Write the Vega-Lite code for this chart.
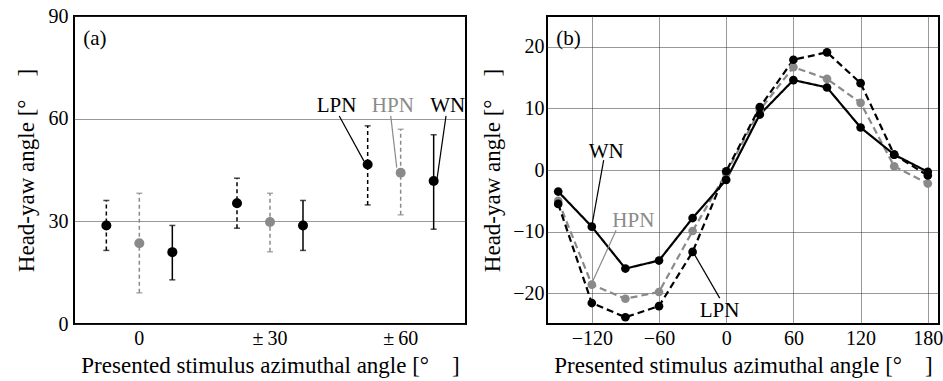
{
  "$schema": "https://vega.github.io/schema/vega-lite/v6.json",
  "padding": {"left": 14, "top": 5, "right": 0, "bottom": 0},
  "spacing": 81,
  "bounds": "flush",
  "resolve": {"scale": {"color": "independent", "strokeDash": "independent"}},
  "datasets": {
    "a": [
      {"angle": "0", "noise": "LPN", "mean": 28.8, "lo": 21.5, "hi": 36.1},
      {"angle": "0", "noise": "HPN", "mean": 23.6, "lo": 9.1, "hi": 38.2},
      {"angle": "0", "noise": "WN", "mean": 21.0, "lo": 12.9, "hi": 28.8},
      {"angle": "±\u200930", "noise": "LPN", "mean": 35.3, "lo": 28.0, "hi": 42.6},
      {"angle": "±\u200930", "noise": "HPN", "mean": 29.8, "lo": 21.1, "hi": 38.2},
      {"angle": "±\u200930", "noise": "WN", "mean": 28.8, "lo": 21.5, "hi": 36.1},
      {"angle": "±\u200960", "noise": "LPN", "mean": 46.6, "lo": 34.8, "hi": 57.9},
      {"angle": "±\u200960", "noise": "HPN", "mean": 44.2, "lo": 31.9, "hi": 56.9},
      {"angle": "±\u200960", "noise": "WN", "mean": 41.8, "lo": 27.7, "hi": 55.3}
    ],
    "a_notes": [
      {"label": "LPN", "noise": "LPN", "x": 1.51, "y": 61.9},
      {"label": "HPN", "noise": "HPN", "x": 1.94, "y": 61.9},
      {"label": "WN", "noise": "WN", "x": 2.36, "y": 61.9}
    ],
    "a_lines": [
      {"noise": "LPN", "x": 1.53, "y": 60.8, "x2": 1.719, "y2": 47.6},
      {"noise": "HPN", "x": 1.924, "y": 60.8, "x2": 1.97, "y2": 45.7},
      {"noise": "WN", "x": 2.347, "y": 60.8, "x2": 2.276, "y2": 41.8}
    ],
    "b": [
      {"angle": -150, "noise": "HPN", "yaw": -5.0},
      {"angle": -120, "noise": "HPN", "yaw": -18.6},
      {"angle": -90, "noise": "HPN", "yaw": -20.9},
      {"angle": -60, "noise": "HPN", "yaw": -19.8},
      {"angle": -30, "noise": "HPN", "yaw": -9.9},
      {"angle": 0, "noise": "HPN", "yaw": -0.5},
      {"angle": 30, "noise": "HPN", "yaw": 9.7},
      {"angle": 60, "noise": "HPN", "yaw": 16.7},
      {"angle": 90, "noise": "HPN", "yaw": 14.8},
      {"angle": 120, "noise": "HPN", "yaw": 10.9},
      {"angle": 150, "noise": "HPN", "yaw": 0.6},
      {"angle": 180, "noise": "HPN", "yaw": -2.2},
      {"angle": -150, "noise": "LPN", "yaw": -5.5},
      {"angle": -120, "noise": "LPN", "yaw": -21.6},
      {"angle": -90, "noise": "LPN", "yaw": -23.9},
      {"angle": -60, "noise": "LPN", "yaw": -22.1},
      {"angle": -30, "noise": "LPN", "yaw": -13.3},
      {"angle": 0, "noise": "LPN", "yaw": -0.2},
      {"angle": 30, "noise": "LPN", "yaw": 10.2},
      {"angle": 60, "noise": "LPN", "yaw": 17.9},
      {"angle": 90, "noise": "LPN", "yaw": 19.1},
      {"angle": 120, "noise": "LPN", "yaw": 14.1},
      {"angle": 150, "noise": "LPN", "yaw": 2.5},
      {"angle": 180, "noise": "LPN", "yaw": -0.9},
      {"angle": -150, "noise": "WN", "yaw": -3.5},
      {"angle": -120, "noise": "WN", "yaw": -9.2},
      {"angle": -90, "noise": "WN", "yaw": -16.0},
      {"angle": -60, "noise": "WN", "yaw": -14.7},
      {"angle": -30, "noise": "WN", "yaw": -7.8},
      {"angle": 0, "noise": "WN", "yaw": -1.6},
      {"angle": 30, "noise": "WN", "yaw": 9.0},
      {"angle": 60, "noise": "WN", "yaw": 14.6},
      {"angle": 90, "noise": "WN", "yaw": 13.4},
      {"angle": 120, "noise": "WN", "yaw": 6.9},
      {"angle": 150, "noise": "WN", "yaw": 2.5},
      {"angle": 180, "noise": "WN", "yaw": -0.3}
    ],
    "b_notes": [
      {"label": "WN", "noise": "WN", "x": -107.2, "y": 1.9},
      {"label": "HPN", "noise": "HPN", "x": -82.9, "y": -9.2},
      {"label": "LPN", "noise": "LPN", "x": -6.0, "y": -23.8}
    ],
    "b_lines": [
      {"noise": "WN", "x": -109.4, "y": 1.6, "x2": -119.8, "y2": -8.9},
      {"noise": "HPN", "x": -98.3, "y": -9.8, "x2": -119.8, "y2": -18.3},
      {"noise": "LPN", "x": -5.8, "y": -20.8, "x2": -29.0, "y2": -13.5}
    ]
  },
  "hconcat": [
    {
      "width": 392,
      "height": 308,
      "resolve": {"scale": {"x": "independent"}},
      "layer": [
        {
          "data": {"name": "a"},
          "encoding": {
            "x": {
              "field": "angle", "type": "nominal",
              "scale": {"domain": ["0", "±\u200930", "±\u200960"], "paddingInner": 0, "paddingOuter": 0},
              "axis": {"title": "Presented stimulus azimuthal angle [°\u2003]", "labelAngle": 0, "grid": false, "ticks": false, "domain": false, "labelPadding": 4, "titlePadding": 6}
            },
            "xOffset": {"field": "noise", "type": "nominal", "scale": {"domain": ["LPN", "HPN", "WN"], "paddingInner": 0, "paddingOuter": 0.48}},
            "color": {"field": "noise", "type": "nominal", "scale": {"domain": ["LPN", "HPN", "WN"], "range": ["black", "#8a8a8a", "black"]}, "legend": null}
          },
          "layer": [
            {
              "mark": {"type": "rule", "strokeWidth": 1.5},
              "encoding": {
                "y": {"field": "lo", "type": "quantitative", "scale": {"domain": [0, 90]}, "title": "Head-yaw angle [°\u2003]",
                  "axis": {"values": [0, 30, 60, 90], "grid": true, "ticks": false, "domain": false, "labelPadding": 6, "titlePadding": 10}},
                "y2": {"field": "hi"},
                "strokeDash": {"field": "noise", "type": "nominal", "scale": {"domain": ["LPN", "HPN", "WN"], "range": [[4, 3], [4, 3], [1, 0]]}, "legend": null}
              }
            },
            {
              "mark": {"type": "tick", "size": 6, "thickness": 1.5},
              "encoding": {"y": {"field": "hi", "type": "quantitative", "title": "Head-yaw angle [°\u2003]"}}
            },
            {
              "mark": {"type": "tick", "size": 6, "thickness": 1.5},
              "encoding": {"y": {"field": "lo", "type": "quantitative", "title": "Head-yaw angle [°\u2003]"}}
            },
            {
              "mark": {"type": "point", "filled": true, "size": 100, "opacity": 1},
              "encoding": {"y": {"field": "mean", "type": "quantitative", "title": "Head-yaw angle [°\u2003]"}}
            }
          ]
        },
        {
          "encoding": {
            "x": {"field": "x", "type": "quantitative", "scale": {"domain": [-0.5, 2.5], "nice": false, "zero": false}, "axis": null}
          },
          "layer": [
            {
              "data": {"name": "a_lines"},
              "mark": {"type": "rule", "strokeWidth": 1.2},
              "encoding": {
                "y": {"field": "y", "type": "quantitative", "title": "Head-yaw angle [°\u2003]"},
                "x2": {"field": "x2"},
                "y2": {"field": "y2"},
                "color": {"field": "noise", "type": "nominal", "legend": null}
              }
            },
            {
              "data": {"name": "a_notes"},
              "mark": {"type": "text", "fontSize": 21, "align": "center", "baseline": "alphabetic"},
              "encoding": {
                "y": {"field": "y", "type": "quantitative", "title": "Head-yaw angle [°\u2003]"},
                "text": {"field": "label"},
                "color": {"field": "noise", "type": "nominal", "legend": null}
              }
            },
            {
              "data": {"values": [{"label": "(a)", "x": -0.43, "y": 81.5}]},
              "mark": {"type": "text", "fontSize": 21, "align": "left", "baseline": "alphabetic", "color": "black"},
              "encoding": {
                "y": {"field": "y", "type": "quantitative", "title": "Head-yaw angle [°\u2003]"},
                "text": {"field": "label"}
              }
            }
          ]
        }
      ]
    },
    {
      "width": 392,
      "height": 308,
      "layer": [
        {
          "data": {"name": "b"},
          "encoding": {
            "x": {"field": "angle", "type": "quantitative", "scale": {"domain": [-160, 190], "nice": false, "zero": false},
              "axis": {"title": "Presented stimulus azimuthal angle [°\u2003]", "values": [-120, -60, 0, 60, 120, 180], "grid": true, "ticks": false, "domain": false, "labelPadding": 4, "titlePadding": 6}},
            "y": {"field": "yaw", "type": "quantitative", "scale": {"domain": [-25, 25], "nice": false}, "title": "Head-yaw angle [°\u2003]",
              "axis": {"values": [-20, -10, 0, 10, 20], "grid": true, "ticks": false, "domain": false, "labelPadding": 3, "titlePadding": 8}},
            "color": {"field": "noise", "type": "nominal", "scale": {"domain": ["HPN", "LPN", "WN"], "range": ["#8a8a8a", "black", "black"]}, "legend": null}
          },
          "layer": [
            {
              "mark": {"type": "line", "strokeWidth": 2.2},
              "encoding": {
                "strokeDash": {"field": "noise", "type": "nominal", "scale": {"domain": ["HPN", "LPN", "WN"], "range": [[7, 4], [7, 4], [1, 0]]}, "legend": null}
              }
            },
            {
              "mark": {"type": "point", "filled": true, "size": 75, "opacity": 1}
            }
          ]
        },
        {
          "data": {"name": "b_lines"},
          "mark": {"type": "rule", "strokeWidth": 1.2},
          "encoding": {
            "x": {"field": "x", "type": "quantitative"},
            "y": {"field": "y", "type": "quantitative"},
            "x2": {"field": "x2"},
            "y2": {"field": "y2"},
            "color": {"field": "noise", "type": "nominal", "legend": null}
          }
        },
        {
          "data": {"name": "b_notes"},
          "mark": {"type": "text", "fontSize": 21, "align": "center", "baseline": "alphabetic"},
          "encoding": {
            "x": {"field": "x", "type": "quantitative"},
            "y": {"field": "y", "type": "quantitative"},
            "text": {"field": "label"},
            "color": {"field": "noise", "type": "nominal", "legend": null}
          }
        },
        {
          "data": {"values": [{"label": "(b)", "x": -151.7, "y": 20.3}]},
          "mark": {"type": "text", "fontSize": 21, "align": "left", "baseline": "alphabetic", "color": "black"},
          "encoding": {
            "x": {"field": "x", "type": "quantitative"},
            "y": {"field": "y", "type": "quantitative"},
            "text": {"field": "label"}
          }
        }
      ]
    }
  ],
  "config": {
    "font": "Liberation Serif, Times New Roman, serif",
    "text": {"font": "Liberation Serif, Times New Roman, serif"},
    "view": {"stroke": "black", "strokeWidth": 2},
    "axis": {
      "labelFont": "Liberation Serif, Times New Roman, serif", "labelFontSize": 20, "labelColor": "black",
      "titleFont": "Liberation Serif, Times New Roman, serif", "titleFontSize": 23, "titleColor": "black", "titleFontWeight": "normal",
      "gridColor": "#333", "gridDash": [1, 1], "gridWidth": 1, "gridOpacity": 1
    }
  }
}
